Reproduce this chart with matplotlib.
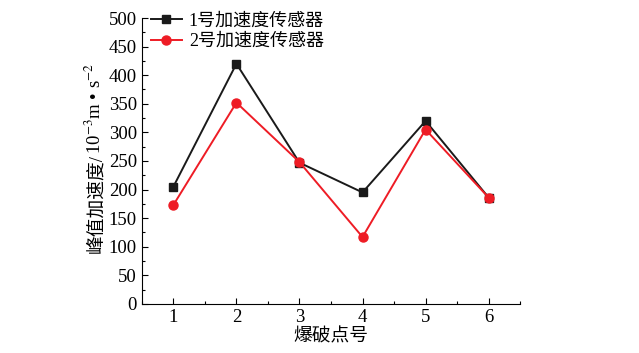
import matplotlib
matplotlib.use("Agg")
import matplotlib.pyplot as plt
from matplotlib.ticker import MultipleLocator

plt.rcParams['font.family'] = ['Liberation Serif', 'Noto Sans CJK SC']
plt.rcParams['mathtext.fontset'] = 'stix'

points = [1, 2, 3, 4, 5, 6]
sensor1 = [205, 420, 247, 195, 320, 186]
sensor2 = [173, 352, 248, 117, 305, 186]
labels = ['1号加速度传感器', '2号加速度传感器']
ylabel_cjk = '峰值加速度/'
ylabel_unit = '10$^{-3}$m • s$^{-2}$'

fig = plt.figure(figsize=(6.39, 3.53), dpi=100)
ax = fig.add_axes([0.222, 0.139, 0.592, 0.81])

ax.plot(points, sensor1, color='#1a1a1a', marker='s', markersize=6, lw=1.4, label=labels[0])
ax.plot(points, sensor2, color='#ee1c25', marker='o', markersize=6.5, lw=1.4, label=labels[1])

ax.set_xlim(0.5, 6.5)
ax.set_ylim(0, 500)
ax.xaxis.set_major_locator(MultipleLocator(1))
ax.xaxis.set_minor_locator(MultipleLocator(0.5))
ax.yaxis.set_major_locator(MultipleLocator(50))
ax.yaxis.set_minor_locator(MultipleLocator(25))
ax.tick_params(which='both', direction='in', labelsize=13.5, width=0.8)
ax.tick_params(which='major', length=4)
ax.tick_params(which='minor', length=2.5)
ax.spines['top'].set_visible(False)
ax.spines['right'].set_visible(False)

ax.set_xlabel('爆破点号', fontsize=13.5, labelpad=2)

# y label in two pieces: CJK text + mathtext unit (mathtext has no CJK fallback)
lx = 101 / 639
t1 = fig.text(lx, 0.5, ylabel_cjk, rotation=90, rotation_mode='anchor',
              ha='left', va='baseline', fontsize=13.5)
t2 = fig.text(lx, 0.5, ylabel_unit, rotation=90, rotation_mode='anchor',
              ha='left', va='baseline', fontsize=13.5)
fig.canvas.draw()
r = fig.canvas.get_renderer()
h1 = t1.get_window_extent(r).height
h2 = t2.get_window_extent(r).height
fh = fig.bbox.height
center = 353 - 158
start = center - (h1 + h2) / 2
t1.set_y(start / fh)
t2.set_y((start + h1) / fh)

ax.legend(loc='upper left', bbox_to_anchor=(0.005, 1.045), frameon=False, fontsize=13,
          handlelength=1.7, handletextpad=0.4, labelspacing=0.2, borderaxespad=0)

fig.savefig('out.png', dpi=100)
